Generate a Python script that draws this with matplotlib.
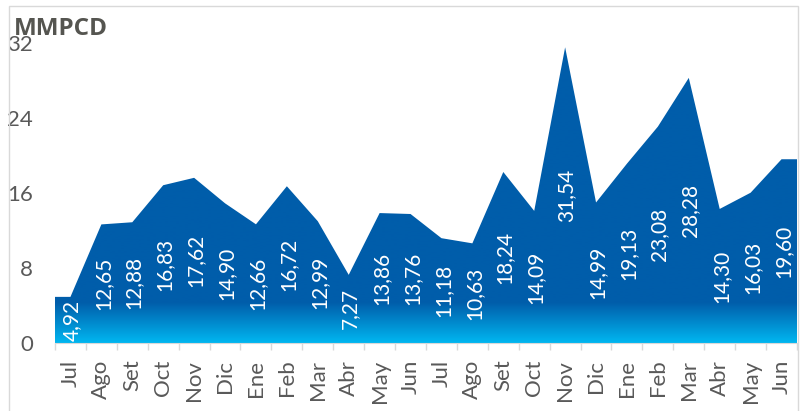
import numpy as np
import matplotlib
matplotlib.use("Agg")
import matplotlib.pyplot as plt
from matplotlib.patches import Polygon, Rectangle
from matplotlib.colors import LinearSegmentedColormap

# monthly volumes (MMPCD)
months = ["Jul", "Ago", "Set", "Oct", "Nov", "Dic", "Ene", "Feb", "Mar", "Abr", "May", "Jun",
          "Jul", "Ago", "Set", "Oct", "Nov", "Dic", "Ene", "Feb", "Mar", "Abr", "May", "Jun"]
values = [4.92, 12.65, 12.88, 16.83, 17.62, 14.90, 12.66, 16.72, 12.99, 7.27, 13.86, 13.76,
          11.18, 10.63, 18.24, 14.09, 31.54, 14.99, 19.13, 23.08, 28.28, 14.30, 16.03, 19.60]
yticks = [0, 8, 16, 24, 32]

plt.rcParams['font.family'] = ['Lato', 'DejaVu Sans']
grey = "#595959"
dark_blue = "#005DAA"
light_blue = "#00B6F0"

fig = plt.figure(figsize=(8.03, 4.11), dpi=100)
ax = fig.add_axes([55/803, (411-343)/411, (797-55)/803, 300/411])

n = len(values)
x = np.arange(n)
# area spans full category width, flat at both ends
px = [-0.5] + list(x) + [n - 0.5, n - 0.5, -0.5]
py = [values[0]] + values + [values[-1], 0, 0]
poly = Polygon(np.column_stack([px, py]), closed=True, facecolor="none", edgecolor="none")
ax.add_patch(poly)

# vertical gradient: cyan at the base, dark blue from ~4 upward
cmap = LinearSegmentedColormap.from_list("g", [light_blue, dark_blue])
yy = np.linspace(0, 32, 400)
grad = np.clip(yy / 4.3, 0, 1).reshape(-1, 1)
im = ax.imshow(grad, cmap=cmap, extent=[-0.5, n - 0.5, 0, 32], origin="lower",
               aspect="auto", interpolation="bilinear")
im.set_clip_path(poly)

for xi, v in zip(x, values):
    ax.text(xi + 0.05, v / 2, f"{v:.2f}".replace(".", ","), rotation=90, ha="center",
            va="center", color="white", fontsize=15)

ax.set_xlim(-0.5, n - 0.5)
ax.set_ylim(0, 32)
ax.set_yticks(yticks)
ax.set_yticklabels([str(t) for t in yticks])
ax.set_xticks(x)
ax.set_xticklabels(months, rotation=90)
ax.set_xticks(np.arange(n + 1) - 0.5, minor=True)
ax.tick_params(axis="x", which="major", length=0, pad=12, labelsize=16, labelcolor=grey)
ax.tick_params(axis="x", which="minor", length=5, color="#D9D9D9", width=1)
ax.tick_params(axis="y", length=0, pad=16, labelsize=16, labelcolor=grey)
for s in ["top", "right", "left"]:
    ax.spines[s].set_visible(False)
ax.spines["bottom"].set_color("#D9D9D9")
ax.spines["bottom"].set_zorder(5)

fig.text(14/803, (411-35)/411, "MMPCD", fontsize=17.5, fontweight="bold", color="#555550",
         family=["Open Sans", "DejaVu Sans"], va="baseline", ha="left")

# chart border
fig.patches.append(Rectangle((9/803, -0.1), (798-9)/803, 1.1 - 6/411, transform=fig.transFigure,
                             facecolor="none", edgecolor="#D9D9D9", lw=1))

fig.savefig("out.png", dpi=100)
